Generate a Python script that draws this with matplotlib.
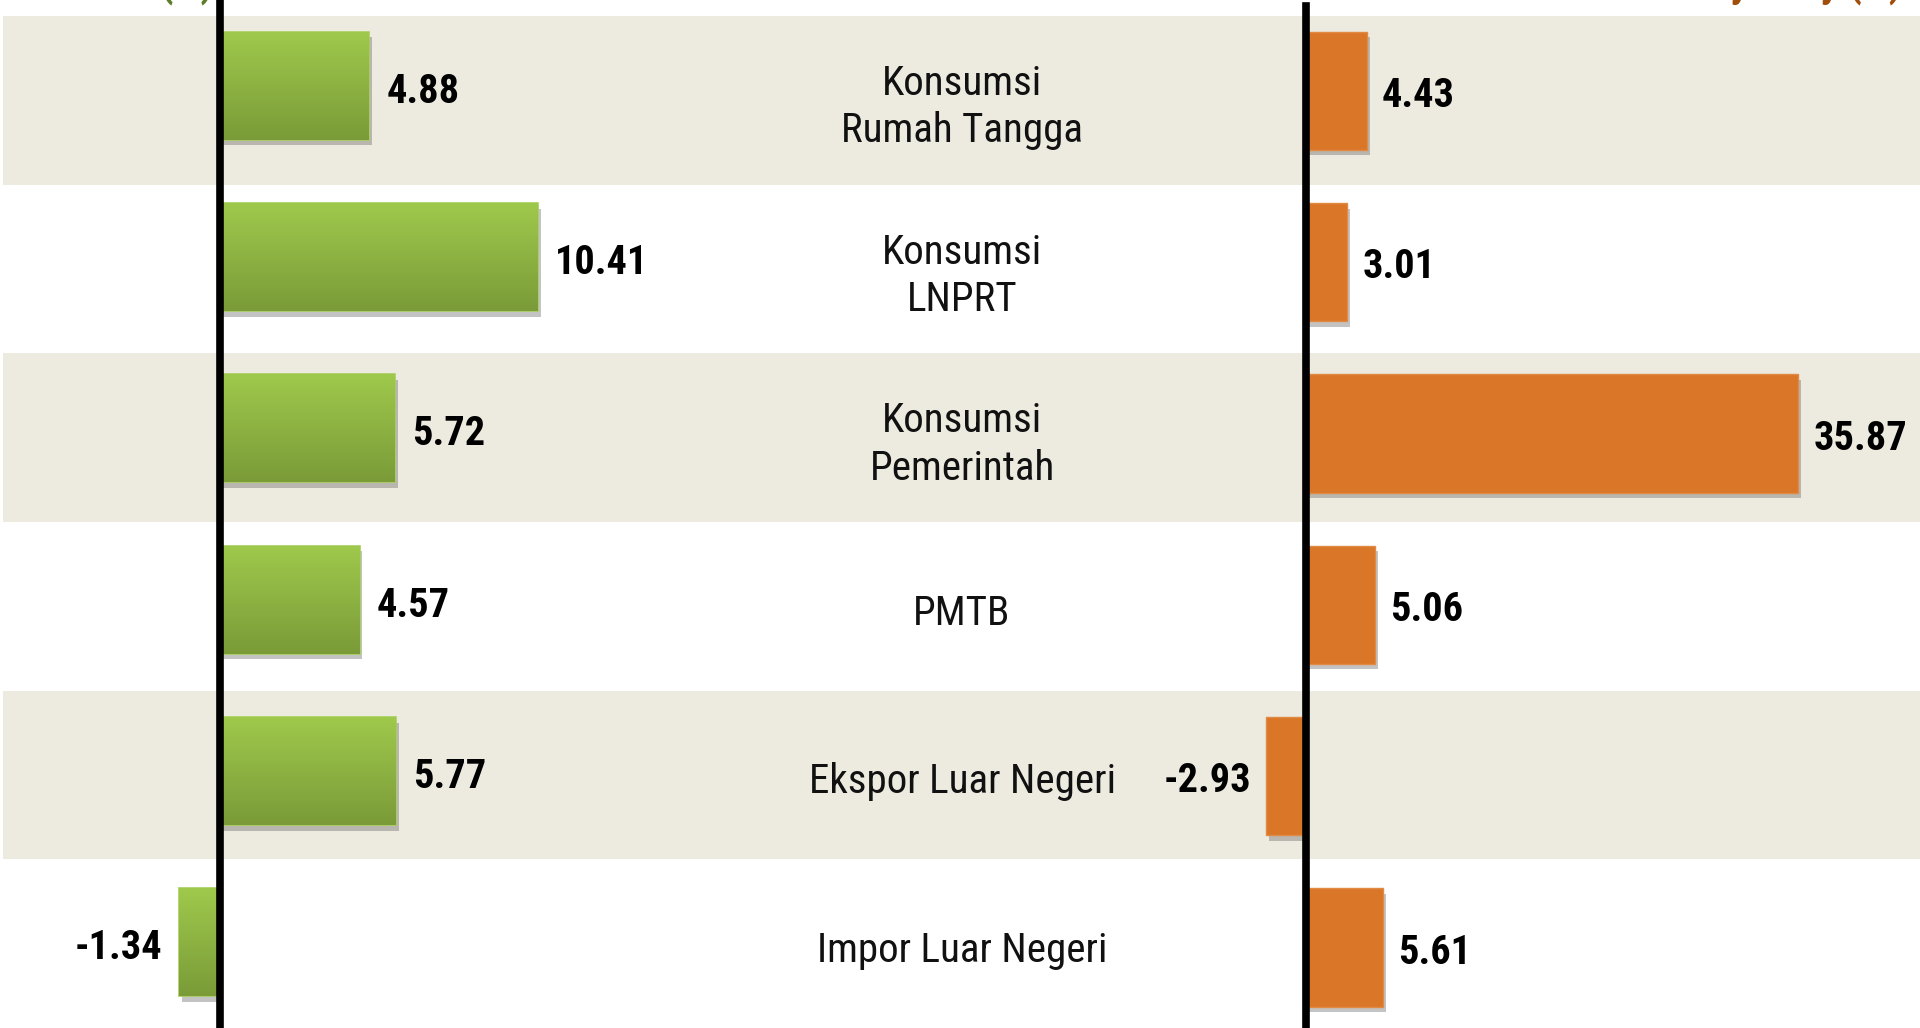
import matplotlib
matplotlib.use("Agg")
import matplotlib.pyplot as plt
import numpy as np
from matplotlib import patheffects
from matplotlib.colors import LinearSegmentedColormap

# data
categories = ["Konsumsi\nRumah Tangga", "Konsumsi\nLNPRT", "Konsumsi\nPemerintah",
              "PMTB", "Ekspor Luar Negeri", "Impor Luar Negeri"]
growth = [4.88, 10.41, 5.72, 4.57, 5.77, -1.34]      # left, green
source = [4.43, 3.01, 35.87, 5.06, -2.93, 5.61]      # right, orange

plt.rcParams['font.family'] = ['Roboto Condensed', 'DejaVu Sans']

W, H = 1920, 1028
fig = plt.figure(figsize=(W / 100, H / 100), dpi=100)
fig.patch.set_facecolor("white")

# background bands + category names
bg = fig.add_axes([0, 0, 1, (H - 16) / H])
bg.set_xlim(0, 1)
bg.set_ylim(len(categories), 0)
bg.axis("off")
for i, cat in enumerate(categories):
    if i % 2 == 0:
        bg.axhspan(i, i + 1, xmin=3 / W, xmax=1, color="#EDEAE0", lw=0, zorder=0)
    bg.text(962 / W, i + 0.54, cat, ha="center", va="center", fontsize=29.5,
            color="#111111", linespacing=1.27, zorder=3)

green_cmap = LinearSegmentedColormap.from_list("g", ["#9FC94C", "#7A9B38"])
shadow = [patheffects.SimplePatchShadow(offset=(2, -4), shadow_rgbFace="#555555", alpha=0.35),
          patheffects.Normal()]


def make_axes(zero_px, px_per_unit):
    ax = fig.add_axes([0, 0, 1, 1])
    ax.patch.set_alpha(0)
    ax.set_xlim(-zero_px / px_per_unit, (W - zero_px) / px_per_unit)
    ax.set_ylim(len(categories), 0)
    ax.axis("off")
    return ax


# left: growth (green, gradient)
axl = make_axes(220.3, 30.5)
y = np.arange(len(categories)) + 0.5
bars = axl.barh(y, growth, height=0.63, color="#8DB443", edgecolor="#A6CF5A",
                linewidth=1.2, zorder=2)
grad = np.linspace(0, 1, 256).reshape(-1, 1)
for b in bars:
    b.set_path_effects(shadow)
    x0, x1 = sorted([b.get_x(), b.get_x() + b.get_width()])
    yt, yb = b.get_y(), b.get_y() + b.get_height()
    im = axl.imshow(grad, extent=(x0, x1, yb, yt), aspect="auto", cmap=green_cmap,
                    origin="upper", zorder=2.5)
    im.set_clip_path(b)
axl.set_xlim(-220.3 / 30.5, (W - 220.3) / 30.5)
axl.set_ylim(len(categories), 0)
axl.axvline(0, ymin=0, ymax=1, color="black", lw=5.5, zorder=4)
for yi, v in zip(y, growth):
    off = 17 / 30.5
    axl.text(v + off if v >= 0 else v - off, yi + 0.035, f"{v:.2f}",
             ha="left" if v >= 0 else "right", va="center",
             fontsize=29, fontweight="bold", color="black", zorder=5)

# right: source of growth (orange)
axr = make_axes(1306, 13.72)
yr = np.arange(len(categories)) + 0.53
bars_r = axr.barh(yr, source, height=0.69, color="#DA7627", edgecolor="#E08A44",
                  linewidth=1.0, zorder=2)
for b in bars_r:
    b.set_path_effects(shadow)
axr.axvline(0, ymin=0, ymax=1 - 6 / H, color="black", lw=5.5, zorder=4)
for yi, v in zip(yr, source):
    off = 15 / 13.72
    axr.text(v + off if v >= 0 else v - off, yi + 0.03, f"{v:.2f}",
             ha="left" if v >= 0 else "right", va="center",
             fontsize=29, fontweight="bold", color="black", zorder=5)

# headers, mostly cut off by the top edge (as in the reference)
fig.text(214 / W, 1 + 4 / H, "Pertumbuhan (%)", ha="right", va="baseline",
         fontsize=30, fontweight="bold", color="#5E7D28")
fig.text(1902 / W, 1 + 4 / H, "Sumber Pertumbuhan y-on-y (%)", ha="right", va="baseline",
         fontsize=30, fontweight="bold", color="#A04E0C")

fig.savefig("out.png", dpi=100)
